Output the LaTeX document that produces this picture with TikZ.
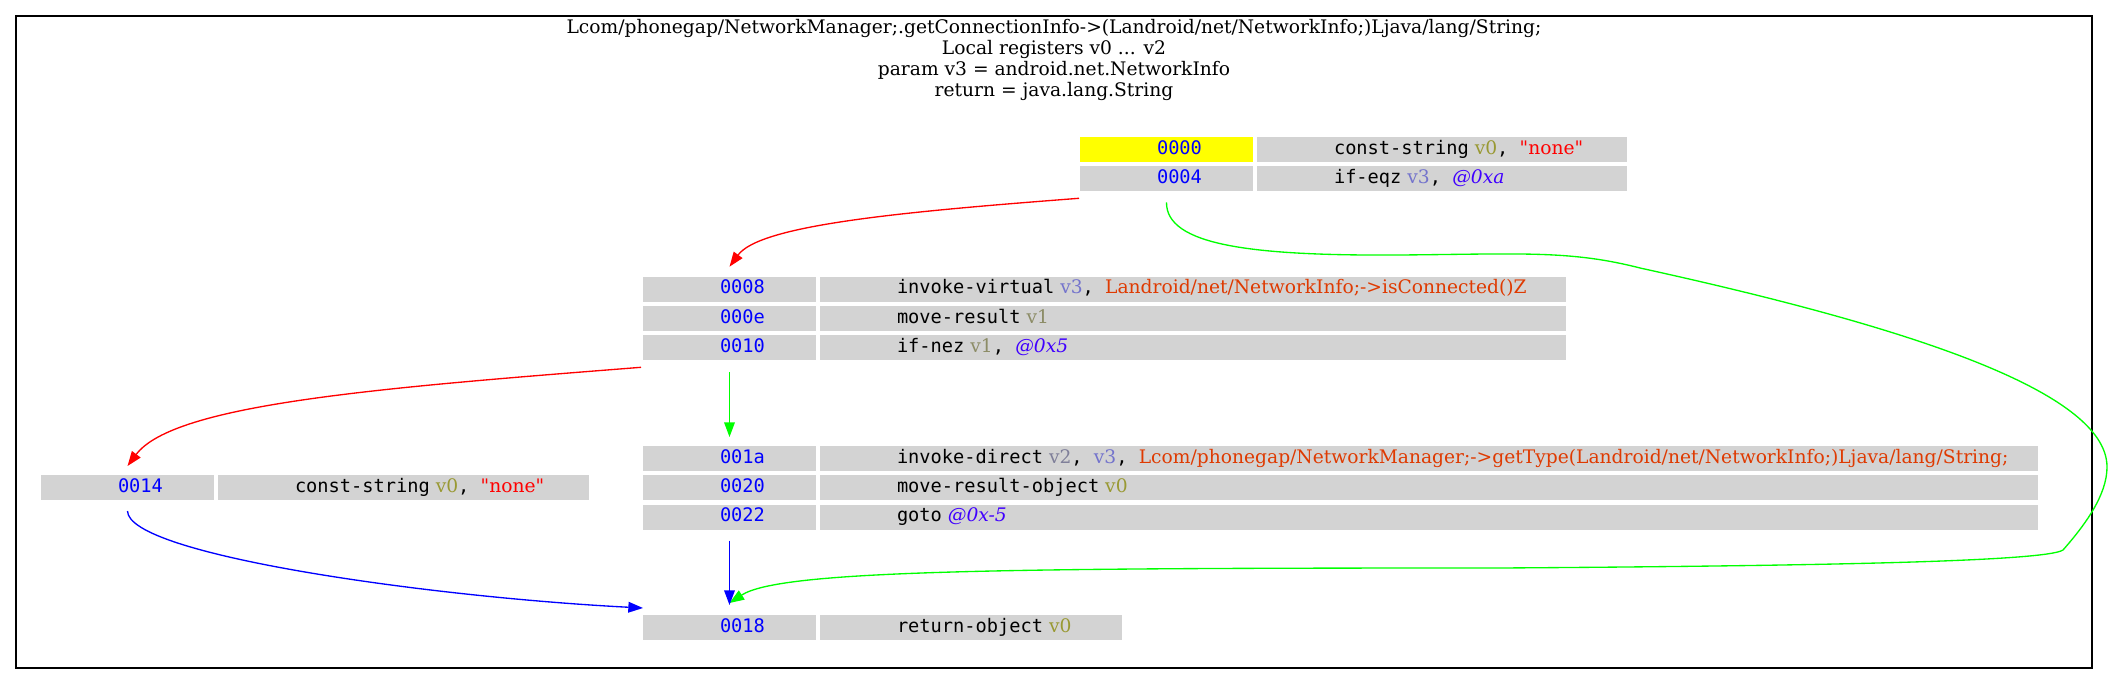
\documentclass[tikz,border=0pt]{standalone}
\usepackage{fontspec}
\setmainfont{DejaVu Serif}
\newfontfamily\monof{DejaVu Sans Mono}
\usetikzlibrary{arrows.meta,calc}
\definecolor{cellgray}{HTML}{D3D3D3}
\definecolor{regA}{HTML}{999933}
\definecolor{regB}{HTML}{8C8C66}
\definecolor{regC}{HTML}{7F7F99}
\definecolor{regD}{HTML}{7373CC}
\definecolor{methodc}{HTML}{DF3A01}
\definecolor{offc}{HTML}{4000FF}
\definecolor{addrc}{HTML}{0000FF}
\definecolor{greenE}{HTML}{00FF00}
\definecolor{yellowc}{HTML}{FFFF00}
\newcommand{\mn}[1]{{\monof\fontsize{14}{16}\selectfont #1}}
\newcommand{\rg}[2]{\textcolor{#1}{#2}}
\newcommand{\off}[1]{\textcolor{offc}{\textit{#1}}}
\newcommand{\strnone}{\textcolor{red}{\textquotedbl none\textquotedbl}}
\newcommand{\insrow}[8]{%
  \node[cell, minimum width=129.75pt, fill=#6] (#1a) at (#2,#4) {};
  \node[cell, minimum width=#5*0.75pt] (#1i) at (#3,#4) {};
  \node[txt] (#1at) at ($(#1a.north west)+(77,17)$) {\mn{\textcolor{addrc}{#7}}};
  \node[txt] (#1it) at ($(#1i.north west)+(77,17)$) {#8};
}
\tikzset{
  cell/.style={fill=cellgray, draw=none, inner sep=0pt, outer sep=0pt, anchor=north west, minimum height=18.75pt},
  txt/.style={anchor=base west, inner sep=0pt, outer sep=0pt},
  edge/.style={line width=1pt, -{Triangle[length=11pt,width=8pt]}},
}
\begin{document}
\begin{tikzpicture}[x=0.75pt, y=-0.75pt, font=\fontsize{14}{16.8}\selectfont]
\useasboundingbox (0,0) rectangle (2112,685);
\node[draw=black, line width=1pt, inner sep=0pt, outer sep=0pt, anchor=north west,
      minimum width=2076*0.75pt, minimum height=652*0.75pt] (frame) at (16,16) {};
\node[align=center, anchor=north, inner sep=0pt, font=\fontsize{14}{15.75}\selectfont] (title) at (1054,19)
  {Lcom/phonegap/NetworkManager;.getConnectionInfo->(Landroid/net/NetworkInfo;)Ljava/lang/String;\\
   Local registers v0 ... v2\\
   param v3 = android.net.NetworkInfo\\
   return = java.lang.String};
% block A
\insrow{A0}{1080}{1257}{137}{370}{yellowc}{0000}{\mn{const-string} \rg{regA}{v0}\mn{, }\strnone}
\insrow{A1}{1080}{1257}{166.3}{370}{cellgray}{0004}{\mn{if-eqz} \rg{regD}{v3}\mn{, }\off{@0xa}}
% block B
\insrow{B0}{643}{820}{276.7}{746}{cellgray}{0008}{\mn{invoke-virtual} \rg{regD}{v3}\mn{, }\textcolor{methodc}{Landroid/net/NetworkInfo;->isConnected()Z}}
\insrow{B1}{643}{820}{306}{746}{cellgray}{000e}{\mn{move-result} \rg{regB}{v1}}
\insrow{B2}{643}{820}{335.3}{746}{cellgray}{0010}{\mn{if-nez} \rg{regB}{v1}\mn{, }\off{@0x5}}
% block C
\insrow{C0}{643}{820}{446}{1218}{cellgray}{001a}{\mn{invoke-direct} \rg{regC}{v2}\mn{, }\rg{regD}{v3}\mn{, }\textcolor{methodc}{Lcom/phonegap/NetworkManager;->getType(Landroid/net/NetworkInfo;)Ljava/lang/String;}}
\insrow{C1}{643}{820}{475.3}{1218}{cellgray}{0020}{\mn{move-result-object} \rg{regA}{v0}}
\insrow{C2}{643}{820}{504.6}{1218}{cellgray}{0022}{\mn{goto} \off{@0x-5}}
% block D
\insrow{D0}{41}{218}{475}{371}{cellgray}{0014}{\mn{const-string} \rg{regA}{v0}\mn{, }\strnone}
% block E
\insrow{E0}{643}{820}{615}{302}{cellgray}{0018}{\mn{return-object} \rg{regA}{v0}}
% edges
\draw[edge, red] ($(A1a.south west)+(-1,7)$) .. controls (900,212) and (760,225) .. ($(B0a.north)+(0,-10)$);
\draw[edge, greenE] ($(A1a.south)+(0,11)$) .. controls (1166,245) and (1250,256) .. (1400,255)
  .. controls (1520,254) and (1570,250) .. (1640,268)
  .. controls (1900,325) and (2107,390) .. (2107,467)
  .. controls (2107,495) and (2085,525) .. (2063,550)
  .. controls (2045,562) and (1800,566) .. (1500,568)
  .. controls (1000,568) and (780,570) .. ($(E0a.north)+(0,-12)$);
\draw[edge, red] ($(B2a.south west)+(-2,7)$) .. controls (378,388) and (174,404) .. ($(D0a.north)+(0,-9)$);
\draw[edge, greenE] ($(B2a.south)+(0,12)$) -- ($(C0a.north)+(0,-9)$);
\draw[edge, blue] ($(C2a.south)+(0,11)$) -- ($(E0a.north)+(0,-10)$);
\draw[edge, blue] ($(D0a.south)+(0,11)$) .. controls (128,555) and (430,597) .. ($(E0a.north west)+(0,-7)$);
\end{tikzpicture}
\end{document}
